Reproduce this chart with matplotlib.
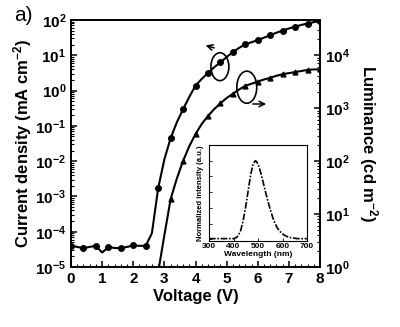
import numpy as np
import matplotlib
matplotlib.use("Agg")
import matplotlib.pyplot as plt
from matplotlib.patches import Ellipse
from matplotlib.ticker import LogLocator, MultipleLocator, NullFormatter

plt.rcParams['font.family'] = ['Liberation Sans', 'DejaVu Sans']
plt.rcParams['mathtext.fontset'] = 'custom'
plt.rcParams['mathtext.rm'] = 'Liberation Sans:bold'
plt.rcParams['mathtext.default'] = 'rm'

# J-V-L data (log10 values)
volt = [0.0, 0.2, 0.4, 0.6, 0.8, 1.0, 1.2, 1.4, 1.6, 1.8, 2.0, 2.2, 2.4, 2.6,
        2.8, 3.0, 3.2, 3.4, 3.6, 3.8, 4.0, 4.2, 4.4, 4.6, 4.8, 5.0, 5.2, 5.4,
        5.6, 5.8, 6.0, 6.2, 6.4, 6.6, 6.8, 7.0, 7.2, 7.4, 7.6, 7.8, 8.0]
logJ = [-4.40, -4.43, -4.47, -4.43, -4.40, -4.59, -4.44, -4.46, -4.47, -4.43,
        -4.39, -4.40, -4.40, -4.04, -2.77, -1.95, -1.35, -0.90, -0.53, -0.18,
        0.14, 0.33, 0.50, 0.66, 0.80, 0.95, 1.09, 1.21, 1.31, 1.37, 1.43, 1.50,
        1.57, 1.64, 1.70, 1.76, 1.81, 1.86, 1.90, 1.94, 1.97]

volt_L = [2.8, 3.0, 3.2, 3.4, 3.6, 3.8, 4.0, 4.2, 4.4, 4.6, 4.8, 5.0, 5.2, 5.4,
          5.6, 5.8, 6.0, 6.2, 6.4, 6.6, 6.8, 7.0, 7.2, 7.4, 7.6, 7.8, 8.0]
logL = [-0.10, 0.60, 1.28, 1.67, 2.00, 2.28, 2.51, 2.70, 2.85, 2.98, 3.09, 3.19,
        3.27, 3.35, 3.42, 3.46, 3.50, 3.54, 3.57, 3.61, 3.64, 3.66, 3.68, 3.70,
        3.72, 3.73, 3.73]

# EL spectrum (inset)
wl = [300, 310, 320, 330, 340, 350, 360, 370, 380, 390, 400, 410, 420, 430,
      440, 450, 460, 470, 480, 490, 500, 510, 520, 530, 540, 550, 560, 570,
      580, 590, 600, 610, 620, 630, 640, 650, 660, 670, 680, 690, 700]
el = [0.01, 0.01, 0.01, 0.01, 0.01, 0.01, 0.01, 0.01, 0.01, 0.01, 0.01, 0.02,
      0.05, 0.12, 0.25, 0.42, 0.62, 0.82, 0.96, 1.00, 0.96, 0.86, 0.74, 0.61,
      0.49, 0.38, 0.28, 0.20, 0.14, 0.10, 0.07, 0.05, 0.035, 0.025, 0.02,
      0.015, 0.01, 0.01, 0.01, 0.01, 0.01]

J = 10 ** np.array(logJ)
L = 10 ** np.array(logL)

fig = plt.figure(figsize=(4.0, 3.27), dpi=100)
ax = fig.add_axes([0.1775, 0.1835, 0.6225, 0.7553])
ax2 = ax.twinx()

ax.plot(volt, J, '-', color='k', lw=1.5, marker='o', ms=4, markevery=2)
ax2.plot(volt_L, L, '-', color='k', lw=1.5, marker='^', ms=3.5, markevery=2)

ax.set_yscale('log')
ax2.set_yscale('log')
ax.set_xlim(0, 8)
ax.set_ylim(1e-5, 1e2)
ax2.set_ylim(1, 4.6e4)

ax.xaxis.set_major_locator(MultipleLocator(1))
ax.xaxis.set_minor_locator(MultipleLocator(0.2))
for a in (ax, ax2):
    a.yaxis.set_major_locator(LogLocator(base=10, numticks=20))
    a.yaxis.set_minor_locator(LogLocator(base=10, subs=np.arange(2, 10), numticks=20))
    a.yaxis.set_minor_formatter(NullFormatter())
    for s in a.spines.values():
        s.set_linewidth(1.2)

ax.tick_params(axis='both', which='major', direction='in', length=4, width=1.1,
               labelsize=11, top=False)
ax.tick_params(axis='both', which='minor', direction='in', length=2, width=0.8, top=False)
ax.tick_params(axis='y', which='both', right=False)
ax2.tick_params(axis='y', which='major', direction='in', length=4, width=1.1, labelsize=11)
ax2.tick_params(axis='y', which='minor', direction='in', length=2, width=0.8)
for lab in ax.get_xticklabels() + ax.get_yticklabels() + ax2.get_yticklabels():
    lab.set_fontweight('bold')

ax.set_xlabel('Voltage (V)', fontsize=12, fontweight='bold', labelpad=2)
ax.set_ylabel('Current density (mA cm$^{-2}$)', fontsize=12, fontweight='bold', labelpad=1)
ax2.set_ylabel('Luminance (cd m$^{-2}$)', fontsize=12, fontweight='bold',
               rotation=270, labelpad=22)

# ellipses with arrows
ax.add_patch(Ellipse((0.598, 0.811), 0.072, 0.113, transform=ax.transAxes,
                     fill=False, lw=1.2, color='k'))
ax.add_patch(Ellipse((0.706, 0.728), 0.080, 0.130, transform=ax.transAxes,
                     fill=False, lw=1.2, color='k'))
ax.annotate('', xy=(0.530, 0.900), xytext=(0.586, 0.884), xycoords='axes fraction',
            arrowprops=dict(arrowstyle='->', lw=1.1, color='k'))
ax.annotate('', xy=(0.795, 0.660), xytext=(0.719, 0.660), xycoords='axes fraction',
            arrowprops=dict(arrowstyle='->', lw=1.1, color='k'))

fig.text(0.035, 0.952, 'a)', fontsize=15, ha='left', va='center')

# inset
axi = fig.add_axes([0.5225, 0.263, 0.245, 0.294])
axi.plot(wl, el, color='k', lw=1.2, ls=(0, (4, 1, 1, 1)))
axi.set_xlim(300, 700)
axi.set_ylim(-0.02, 1.2)
axi.xaxis.set_major_locator(MultipleLocator(100))
axi.yaxis.set_major_locator(MultipleLocator(0.2))
axi.set_yticklabels([])
axi.tick_params(direction='in', length=2, width=0.6, labelsize=6, pad=1.5)
for lab in axi.get_xticklabels():
    lab.set_fontweight('bold')
for s in axi.spines.values():
    s.set_linewidth(0.8)
axi.set_xlabel('Wavelength (nm)', fontsize=6, fontweight='bold', labelpad=1)
axi.set_ylabel('Normalized intensity (a.u.)', fontsize=5.5, fontweight='bold', labelpad=2)

fig.savefig('out.png', dpi=100)
